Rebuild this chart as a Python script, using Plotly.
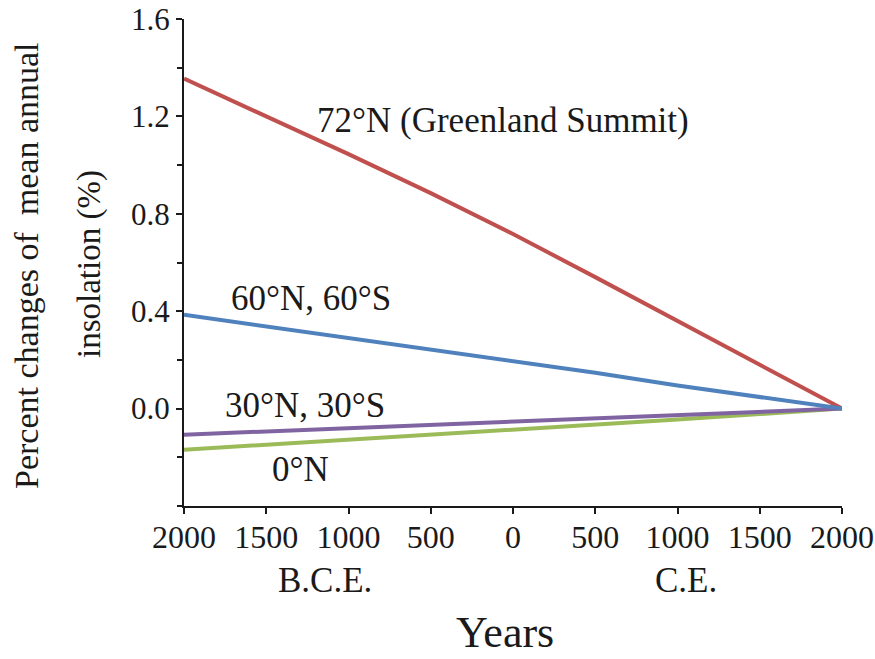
import plotly.graph_objects as go

# Years (negative = B.C.E.) and percent change of mean annual insolation
years = [-2000, -1500, -1000, -500, 0, 500, 1000, 1500, 2000]
lat72N = [1.355, 1.200, 1.045, 0.885, 0.717, 0.540, 0.360, 0.180, 0.0]
lat60 = [0.385, 0.337, 0.289, 0.243, 0.197, 0.147, 0.095, 0.047, 0.0]
years_coarse = [-2000, -1000, 0, 1000, 2000]
lat30 = [-0.107, -0.080, -0.054, -0.027, 0.0]
lat0 = [-0.169, -0.128, -0.088, -0.045, 0.0]

x_tickvals = [-2000, -1500, -1000, -500, 0, 500, 1000, 1500, 2000]
x_ticktext = ["2000", "1500", "1000", "500", "0", "500", "1000", "1500", "2000"]
y_tickvals = [0.0, 0.4, 0.8, 1.2, 1.6]
y_ticktext = ["0.0", "0.4", "0.8", "1.2", "1.6"]

FONT = "Liberation Serif"
INK = "#1a1a1a"
RED, BLUE, PURPLE, GREEN = "#C0504D", "#4F81BD", "#8064A2", "#9BBB59"

fig = go.Figure()
fig.add_trace(go.Scatter(x=years, y=lat72N, mode="lines", line=dict(color=RED, width=4)))
fig.add_trace(go.Scatter(x=years_coarse, y=lat0, mode="lines", line=dict(color=GREEN, width=4)))
fig.add_trace(go.Scatter(x=years_coarse, y=lat30, mode="lines", line=dict(color=PURPLE, width=4)))
fig.add_trace(go.Scatter(x=years, y=lat60, mode="lines", line=dict(color=BLUE, width=4)))

# series labels placed in data coordinates
series_labels = [
    ("72°N (Greenland Summit)", -60, 1.182),
    ("60°N, 60°S", -1228, 0.452),
    ("30°N, 30°S", -1264, 0.014),
    ("0°N", -1289, -0.25),
]
for text, x, y in series_labels:
    fig.add_annotation(x=x, y=y, text=text, showarrow=False,
                       font=dict(family=FONT, size=35, color=INK))

fig.update_layout(
    width=875, height=659,
    margin=dict(l=184, r=33, t=19, b=153),
    paper_bgcolor="white", plot_bgcolor="white",
    showlegend=False,
    font=dict(family=FONT, color=INK),
    xaxis=dict(range=[-2000, 2000], tickvals=x_tickvals, ticktext=x_ticktext,
               automargin=False, ticklabelstandoff=-4,
               showline=True, linecolor=INK, linewidth=2, ticks="outside",
               ticklen=6, tickwidth=2, tickcolor=INK, showgrid=False, zeroline=False,
               tickfont=dict(family=FONT, size=32, color=INK)),
    yaxis=dict(range=[-0.4, 1.6], tickvals=y_tickvals, ticktext=y_ticktext,
               automargin=False,
               showline=True, linecolor=INK, linewidth=2, ticks="outside",
               ticklen=6, tickwidth=2, tickcolor=INK, showgrid=False, zeroline=False,
               tickfont=dict(family=FONT, size=31, color=INK),
               minor=dict(tick0=-0.4, dtick=0.2, ticks="outside", ticklen=5,
                          tickwidth=2, tickcolor=INK, showgrid=False)),
)

# era labels and axis titles, positioned in page pixels via paper coordinates
pl, pr, pt, pb = 184, 842, 19, 506


def to_paper(xp, yp):
    return (xp - pl) / (pr - pl), (pb - yp) / (pb - pt)


for text, xp, yp, size, angle in [
    ("B.C.E.", 325, 580, 35, 0),
    ("C.E.", 686, 580, 35, 0),
    ("Years", 505, 632, 44, 0),
    ("Percent changes of\u00a0 mean annual", 26, 266, 34, -90),
    ("insolation (%)", 89, 264, 33, -90),
]:
    xx, yy = to_paper(xp, yp)
    fig.add_annotation(x=xx, y=yy, xref="paper", yref="paper", text=text, showarrow=False,
                       textangle=angle, xanchor="center", yanchor="middle",
                       font=dict(family=FONT, size=size, color=INK))

fig.write_html("out.html")
